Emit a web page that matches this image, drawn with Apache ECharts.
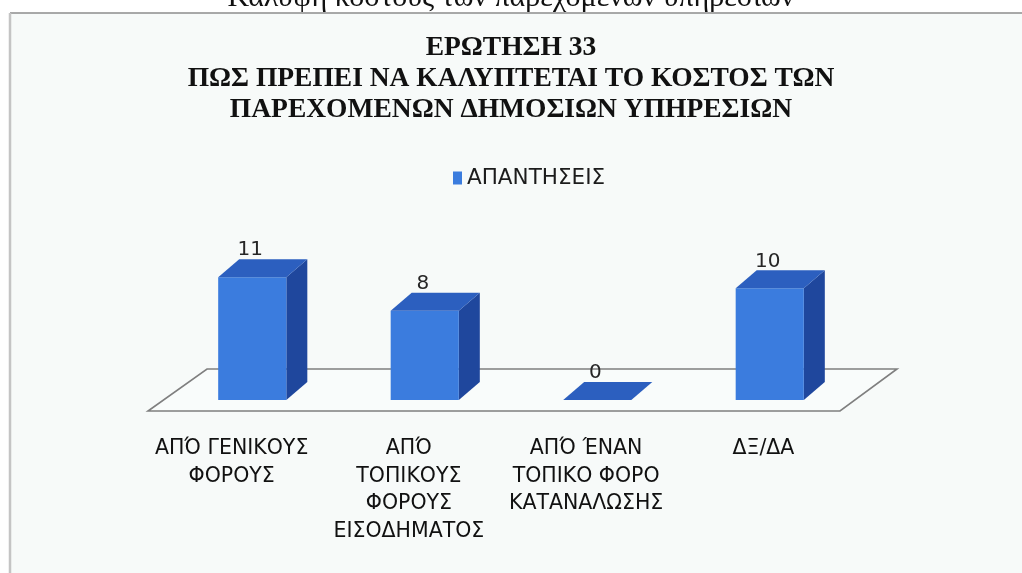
<!DOCTYPE html>
<html>
<head>
<meta charset="utf-8">
<script src="https://cdn.jsdelivr.net/npm/echarts@6/dist/echarts.min.js"></script>
<style>
  html, body { margin: 0; padding: 0; background: #ffffff; }
  #chart { width: 1022px; height: 573px; }
</style>
</head>
<body>
<div id="chart"></div>
<script>
// Survey question 33: how the cost of public services should be covered
const categories = [
  'ΑΠΌ ΓΕΝΙΚΟΥΣ\nΦΟΡΟΥΣ',
  'ΑΠΌ\nΤΟΠΙΚΟΥΣ\nΦΟΡΟΥΣ\nΕΙΣΟΔΗΜΑΤΟΣ',
  'ΑΠΌ ΈΝΑΝ\nΤΟΠΙΚΟ ΦΟΡΟ\nΚΑΤΑΝΑΛΩΣΗΣ',
  'ΔΞ/ΔΑ'
];
const answers = [11, 8, 0, 10];
const seriesName = 'ΑΠΑΝΤΗΣΕΙΣ';
const titleLines = ['ΕΡΩΤΗΣΗ 33', 'ΠΩΣ ΠΡΕΠΕΙ ΝΑ ΚΑΛΥΠΤΕΤΑΙ ΤΟ ΚΟΣΤΟΣ ΤΩΝ', 'ΠΑΡΕΧΟΜΕΝΩΝ ΔΗΜΟΣΙΩΝ ΥΠΗΡΕΣΙΩΝ'];
const captionText = 'Κάλυψη κόστους των παρεχόμενων υπηρεσιών';

const SANS = '"DejaVu Sans", "Noto Sans", sans-serif';

// pseudo-3D geometry
const BAR_RATIO = 0.395;   // front face width as share of category band
const DEPTH_X = 21;
const DEPTH_Y = 18;

const FRONT = '#3b7cde';
const TOP = '#2c5fbf';
const SIDE = '#1f479d';

const chart = echarts.init(document.getElementById('chart'));

function renderBar(params, api) {
  const idx = api.value(0);
  const v = api.value(1);
  const base = api.coord([idx, 0]);
  const top = api.coord([idx, v]);
  const band = api.size([1, 0])[0];
  const w = band * BAR_RATIO;
  const x0 = base[0] - w / 2;
  const x1 = base[0] + w / 2;
  const yb = base[1];
  const yt = top[1];
  const children = [];
  if (yb - yt > 0.5) {
    children.push({
      type: 'polygon',
      shape: { points: [[x1, yt], [x1 + DEPTH_X, yt - DEPTH_Y], [x1 + DEPTH_X, yb - DEPTH_Y], [x1, yb]] },
      style: { fill: SIDE }
    });
    children.push({
      type: 'rect',
      shape: { x: x0, y: yt, width: w, height: yb - yt },
      style: { fill: FRONT }
    });
  }
  children.push({
    type: 'polygon',
    shape: { points: [[x0, yt], [x1, yt], [x1 + DEPTH_X, yt - DEPTH_Y], [x0 + DEPTH_X, yt - DEPTH_Y]] },
    style: { fill: TOP }
  });
  children.push({
    type: 'text',
    style: {
      text: String(v),
      x: base[0] - 2,
      y: yt - DEPTH_Y - 9,
      textAlign: 'center',
      textVerticalAlign: 'middle',
      fill: '#262626',
      font: '20px ' + SANS
    }
  });
  return { type: 'group', children: children };
}

function renderFloor(params, api) {
  const cs = params.coordSys;
  const y0 = api.coord([0, 0])[1];
  const left = cs.x;
  const right = cs.x + cs.width;
  return {
    type: 'polygon',
    shape: {
      points: [
        [left - 18, y0 + 11],
        [right - 16, y0 + 11],
        [right + 41, y0 - 31],
        [left + 41, y0 - 31]
      ]
    },
    style: { fill: '#f9fcfb', stroke: '#7f7f7f', lineWidth: 1.6 }
  };
}

chart.setOption({
  backgroundColor: '#ffffff',
  animation: false,
  title: {
    text: titleLines.join('\n'),
    left: 'center',
    top: 27,
    textStyle: {
      fontFamily: '"Liberation Serif", "DejaVu Serif", serif',
      fontWeight: 'bold',
      fontSize: 27.5,
      lineHeight: 31,
      color: '#111111'
    }
  },
  legend: {
    data: [seriesName],
    left: 448,
    top: 162,
    icon: 'rect',
    itemWidth: 9,
    itemHeight: 13,
    textStyle: { fontFamily: SANS, fontSize: 21.5, color: '#1c1c1c' }
  },
  graphic: [
    { type: 'rect', z: -10, shape: { x: 10, y: 13, width: 1012, height: 560 }, style: { fill: '#f7faf9' } },
    { type: 'line', shape: { x1: 10, y1: 13, x2: 1022, y2: 13 }, style: { stroke: '#8c8c8c', lineWidth: 1.5 } },
    { type: 'line', shape: { x1: 10, y1: 13, x2: 10, y2: 573 }, style: { stroke: '#c4c4c4', lineWidth: 2.5 } },
    {
      type: 'text',
      style: {
        text: captionText,
        x: 511,
        y: -2,
        textAlign: 'center',
        textVerticalAlign: 'middle',
        font: '30px "Liberation Serif"',
        fill: '#111111'
      }
    }
  ],
  grid: [
    { left: 166, right: 166, top: 266, bottom: 173 },
    { left: 143, right: 170, top: 266, bottom: 173 }
  ],
  xAxis: [
    {
      type: 'category', gridIndex: 0, data: categories,
      axisLine: { show: false }, axisTick: { show: false }, axisLabel: { show: false }
    },
    {
      type: 'category', gridIndex: 1, data: categories,
      axisLine: { show: false }, axisTick: { show: false },
      axisLabel: {
        interval: 0,
        margin: 35,
        fontFamily: SANS,
        fontSize: 20.5,
        lineHeight: 27.5,
        color: '#111111'
      }
    }
  ],
  yAxis: [
    { type: 'value', gridIndex: 0, min: 0, max: 12, show: false, splitLine: { show: false } },
    { type: 'value', gridIndex: 1, min: 0, max: 12, show: false, splitLine: { show: false } }
  ],
  series: [
    {
      name: 'floor',
      type: 'custom',
      xAxisIndex: 0, yAxisIndex: 0,
      z: 1,
      silent: true,
      renderItem: renderFloor,
      data: [[0, 0]]
    },
    {
      name: seriesName,
      type: 'custom',
      xAxisIndex: 0, yAxisIndex: 0,
      z: 3,
      itemStyle: { color: FRONT },
      renderItem: renderBar,
      encode: { x: 0, y: 1 },
      data: answers.map((v, i) => [i, v])
    }
  ]
});
</script>
</body>
</html>
